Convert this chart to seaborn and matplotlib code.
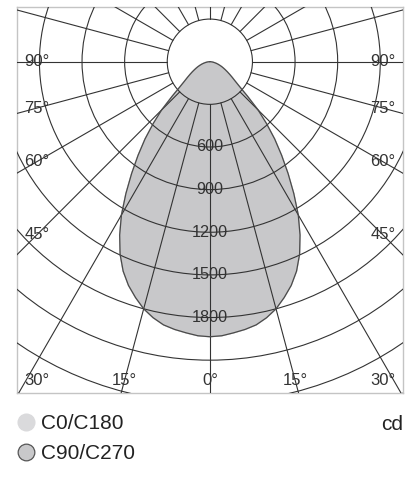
import numpy as np
import pandas as pd
import seaborn as sns
import matplotlib.pyplot as plt
from matplotlib.patches import Circle
from matplotlib.lines import Line2D

# gamma angles (deg) and luminous intensity (cd), symmetric about 0
angles = [0, 2.5, 5, 7.5, 10, 12.5, 15, 17.5, 20, 22.5, 25, 27.5, 30, 32.5, 35, 37.5, 40,
          42.5, 45, 47.5, 50, 52.5, 55, 57.5, 60, 62.5, 65, 67.5, 70, 72.5, 75, 77.5, 80,
          82.5, 85, 87.5, 90]
c0_c180 = [1935, 1930, 1915, 1900, 1880, 1845, 1800, 1740, 1675, 1595, 1495, 1375, 1245,
           1100, 960, 830, 710, 590, 480, 360, 275, 225, 192, 165, 142, 122, 105, 90, 75,
           62, 50, 38, 28, 19, 11, 5, 0]
c90_c270 = [1935, 1930, 1915, 1900, 1880, 1845, 1800, 1740, 1675, 1595, 1495, 1375, 1245,
            1100, 960, 830, 710, 590, 480, 360, 275, 225, 192, 165, 142, 122, 105, 90, 75,
            62, 50, 38, 28, 19, 11, 5, 0]
ring_labels = [600, 900, 1200, 1500, 1800]
side_angles = [45, 60, 75, 90]
bottom_angles = [0, 15, 30]

sns.set_style("white")
plt.rcParams['font.family'] = ['Liberation Sans', 'DejaVu Sans']
ink = '#333333'


def curve(vals, name):
    th = np.radians(np.concatenate([-np.array(angles[::-1]), np.array(angles[1:])]))
    iv = np.concatenate([np.array(vals[::-1]), np.array(vals[1:])])
    return pd.DataFrame({'x': iv * np.sin(th), 'y': -iv * np.cos(th), 'curve': name})


fig = plt.figure(figsize=(4.2, 4.8), dpi=100)
ax = fig.add_axes([16.7 / 420, 1 - 393 / 480, 386.3 / 420, 386.3 / 480])
ax.set_xlim(-1360, 1360)
ax.set_ylim(-2331, 387)

# curves
d0 = curve(c0_c180, 'C0/C180')
d90 = curve(c90_c270, 'C90/C270')
ax.fill(d0['x'], d0['y'], color='#dadadc', zorder=1)
ax.fill(d90['x'], d90['y'], color='#c8c8ca', zorder=1.1)
sns.lineplot(data=d90, x='x', y='y', sort=False, estimator=None, color='#4a4a4a',
             lw=0.9, ax=ax, zorder=4)

# grid: rings and spokes
for r in range(300, 3100, 300):
    ax.add_patch(Circle((0, 0), r, fill=False, ec=ink, lw=0.8, zorder=3))
for a in range(0, 360, 15):
    t = np.radians(a)
    ax.plot([300 * np.sin(t), 3000 * np.sin(t)], [-300 * np.cos(t), -3000 * np.cos(t)],
            color=ink, lw=0.8, zorder=3)

# ring labels
for v in ring_labels:
    ax.text(0, -v, str(v), ha='center', va='center', fontsize=11.7, color=ink, zorder=5)

# angle labels
xs = 1217
yb = 2240
for a in side_angles:
    t = np.radians(a)
    y = -xs / np.tan(t) if a < 90 else 0
    for s in (-1, 1):
        ax.text(s * xs, y, f'{a}°', ha='center', va='center', fontsize=12, color=ink, zorder=5)
for a in bottom_angles:
    x = min(yb * np.tan(np.radians(a)), xs)
    for s in ((-1, 1) if a else (1,)):
        ax.text(s * x, -yb, f'{a}°', ha='center', va='center', fontsize=12, color=ink, zorder=5)

ax.set_xticks([])
ax.set_yticks([])
ax.set_xlabel('')
ax.set_ylabel('')
for sp in ax.spines.values():
    sp.set_color('#c4c4c4')
    sp.set_linewidth(1.0)

# legend
handles = [Line2D([], [], marker='o', ls='', markersize=12, mfc='#dadadc', mec='#dadadc'),
           Line2D([], [], marker='o', ls='', markersize=12, mfc='#c8c8ca', mec='#555555', mew=0.9)]
fig.legend(handles, ['C0/C180', 'C90/C270'], loc='upper left', bbox_to_anchor=(9 / 420, 1 - 406 / 480),
           frameon=False, fontsize=15, handlelength=0.8, handletextpad=0.35, labelspacing=0.52,
           borderaxespad=0, borderpad=0.4, labelcolor='#222222')
fig.text(403 / 420, 1 - 425 / 480, 'cd', ha='right', va='center', fontsize=15, color='#222222')

fig.savefig('out.png', dpi=100)
